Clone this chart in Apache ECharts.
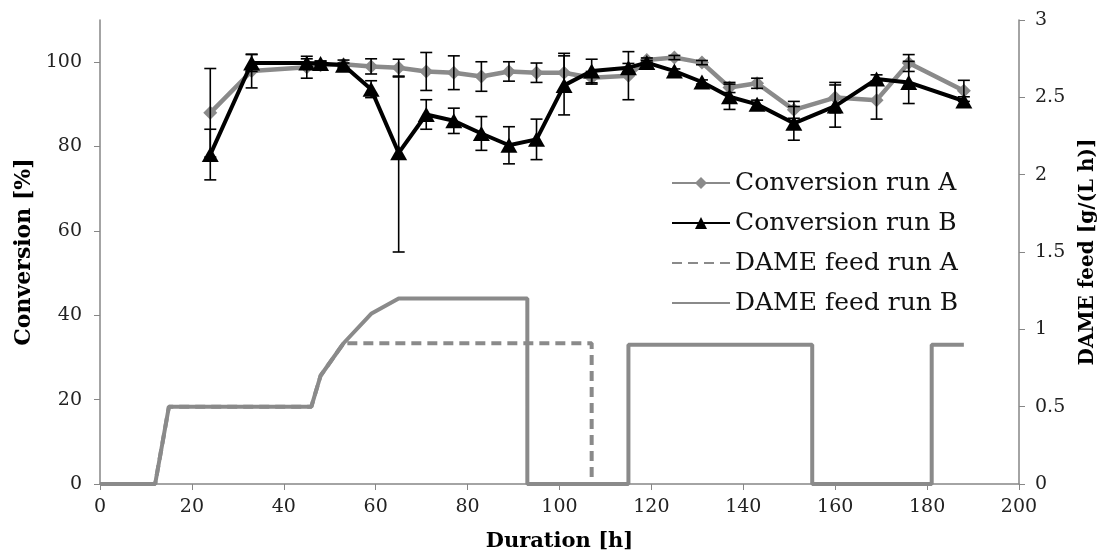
<!DOCTYPE html>
<html><head><meta charset="utf-8">
<script src="https://cdn.jsdelivr.net/npm/echarts@6/dist/echarts.min.js"></script>
<style>html,body{margin:0;padding:0;background:#fff}#c{width:1105px;height:556px}</style>
</head><body><div id="c"></div>
<script>
const hours = [24,33,45,48,53,59,65,71,77,83,89,95,101,107,115,119,125,131,137,143,151,160,169,176,188];
const convA = [88,97.9,98.8,99.3,99.5,99,98.7,97.8,97.5,96.6,97.8,97.5,97.5,96.3,96.8,100.5,101.1,99.9,94,95,88.7,91.6,91,99.8,93.2];
const convB = [78.1,99.8,99.8,99.7,99.3,93.6,78.5,87.6,86.1,83.1,80.3,81.7,94.5,97.9,98.7,99.9,97.9,95.3,91.8,90,85.5,89.6,96,95.2,90.8];
const errA = [10.5,4,2.6,1,1,1.8,2,4.5,4,3.5,2.3,2.3,4.6,1.5,5.7,0.5,0.5,0.5,1.2,1.2,2,3.6,4.5,2,2.5];
const errBUp = [6,2,1,0.5,0.5,2,18,3.5,3,4,4.4,4.8,7,2.8,1,0.5,0.5,0.5,3,1,4,5,1,5,1];
const errBDown = [6,2,1,0.5,0.5,2,23.5,3.5,3,4,4.4,4.8,7,2.8,1,0.5,0.5,0.5,3,1,4,5,1,5,1];
const feedATime = [0,12,15,46,48,53,107,107];
const feedARate = [0,0,0.5,0.5,0.7,0.91,0.91,0];
const feedBTime = [0,12,15,46,48,53,59,65,93,93,115,115,155,155,181,181,188];
const feedBRate = [0,0,0.5,0.5,0.7,0.91,1.1,1.2,1.2,0,0,0.9,0.9,0,0,0.9,0.9];
const xTicks = {min:0, max:200, interval:20};
const yLeft = {min:0, max:110, interval:20};
const yRight = {min:0, max:3, interval:0.5};

const GRAY = '#8a8a8a', AXIS = '#868686', FONT = 'DejaVu Serif';
const zip = (a,b) => a.map((v,i)=>[v,b[i]]);

function errSeries(name, vals, up, down, z) {
  return {
    name: name, type: 'custom', yAxisIndex: 0, z: z, silent: true,
    data: hours.map((h,i)=>[h, vals[i]-down[i], vals[i]+up[i]]),
    renderItem: function (params, api) {
      const lo = api.coord([api.value(0), api.value(1)]);
      const hi = api.coord([api.value(0), api.value(2)]);
      const w = 6;
      const st = {stroke:'#000', lineWidth:1.6};
      return {type:'group', children:[
        {type:'line', shape:{x1:lo[0],y1:lo[1],x2:hi[0],y2:hi[1]}, style:st},
        {type:'line', shape:{x1:lo[0]-w,y1:lo[1],x2:lo[0]+w,y2:lo[1]}, style:st},
        {type:'line', shape:{x1:hi[0]-w,y1:hi[1],x2:hi[0]+w,y2:hi[1]}, style:st}
      ]};
    }
  };
}

const chart = echarts.init(document.getElementById('c'));
chart.setOption({
  animation: false,
  textStyle: {fontFamily: FONT},
  grid: {left:100, right:86, top:20, bottom:72, containLabel:false, outerBoundsMode:'none'},
  legend: {
    orient:'vertical', left:666, top:163, itemWidth:58, itemHeight:15, itemGap:10,
    textStyle:{fontSize:25, color:'#111', fontFamily:FONT, lineHeight:30},
    data:['Conversion run A','Conversion run B',
      {name:'DAME feed run A', itemStyle:{opacity:0}},
      {name:'DAME feed run B', itemStyle:{opacity:0}}]
  },
  xAxis: {
    type:'value', min:xTicks.min, max:xTicks.max, interval:xTicks.interval,
    name:'Duration [h]', nameLocation:'middle', nameGap:47,
    nameTextStyle:{fontSize:21, fontWeight:'bold', color:'#000', fontFamily:FONT},
    axisLine:{show:true, onZero:false, lineStyle:{color:AXIS, width:1.5}},
    axisTick:{show:true, inside:false, length:6, lineStyle:{color:AXIS}},
    axisLabel:{fontSize:19, color:'#222', margin:14, fontFamily:FONT},
    splitLine:{show:false}
  },
  yAxis: [{
    type:'value', min:yLeft.min, max:yLeft.max, interval:yLeft.interval,
    name:'Conversion [%]', nameLocation:'middle', nameGap:53, nameRotate:90,
    nameTextStyle:{fontSize:22, fontWeight:'bold', color:'#000', fontFamily:FONT},
    axisLine:{show:true, lineStyle:{color:AXIS, width:1.5}},
    axisTick:{show:true, length:6, lineStyle:{color:AXIS}},
    axisLabel:{fontSize:19, color:'#222', margin:18, fontFamily:FONT, showMaxLabel:false},
    splitLine:{show:false}
  },{
    type:'value', position:'right', min:yRight.min, max:yRight.max, interval:yRight.interval,
    name:'DAME feed [g/(L h)]', nameLocation:'middle', nameGap:59, nameRotate:90,
    nameTextStyle:{fontSize:20, fontWeight:'bold', color:'#000', fontFamily:FONT},
    axisLine:{show:true, lineStyle:{color:AXIS, width:1.5}},
    axisTick:{show:true, length:6, lineStyle:{color:AXIS}},
    axisLabel:{fontSize:19, color:'#222', margin:16, fontFamily:FONT},
    splitLine:{show:false}
  }],
  series: [
    {name:'DAME feed run A', type:'line', yAxisIndex:1, data:zip(feedATime, feedARate), showSymbol:false, symbol:'none',
     lineStyle:{color:GRAY, width:4, type:[10,6]}, itemStyle:{color:GRAY}, z:1},
    {name:'DAME feed run B', type:'line', yAxisIndex:1, data:zip(feedBTime, feedBRate), showSymbol:false, symbol:'none',
     lineStyle:{color:GRAY, width:4}, itemStyle:{color:GRAY}, z:2},
    {name:'Conversion run A', type:'line', yAxisIndex:0, data:zip(hours, convA), symbol:'diamond', symbolSize:14,
     lineStyle:{color:GRAY, width:4.5}, itemStyle:{color:GRAY}, z:3},
    errSeries('errA', convA, errA, errA, 4),
    {name:'Conversion run B', type:'line', yAxisIndex:0, data:zip(hours, convB), symbol:'triangle', symbolSize:[17,15],
     lineStyle:{color:'#000', width:4}, itemStyle:{color:'#000'}, z:5},
    errSeries('errB', convB, errBUp, errBDown, 6)
  ]
});
</script></body></html>
